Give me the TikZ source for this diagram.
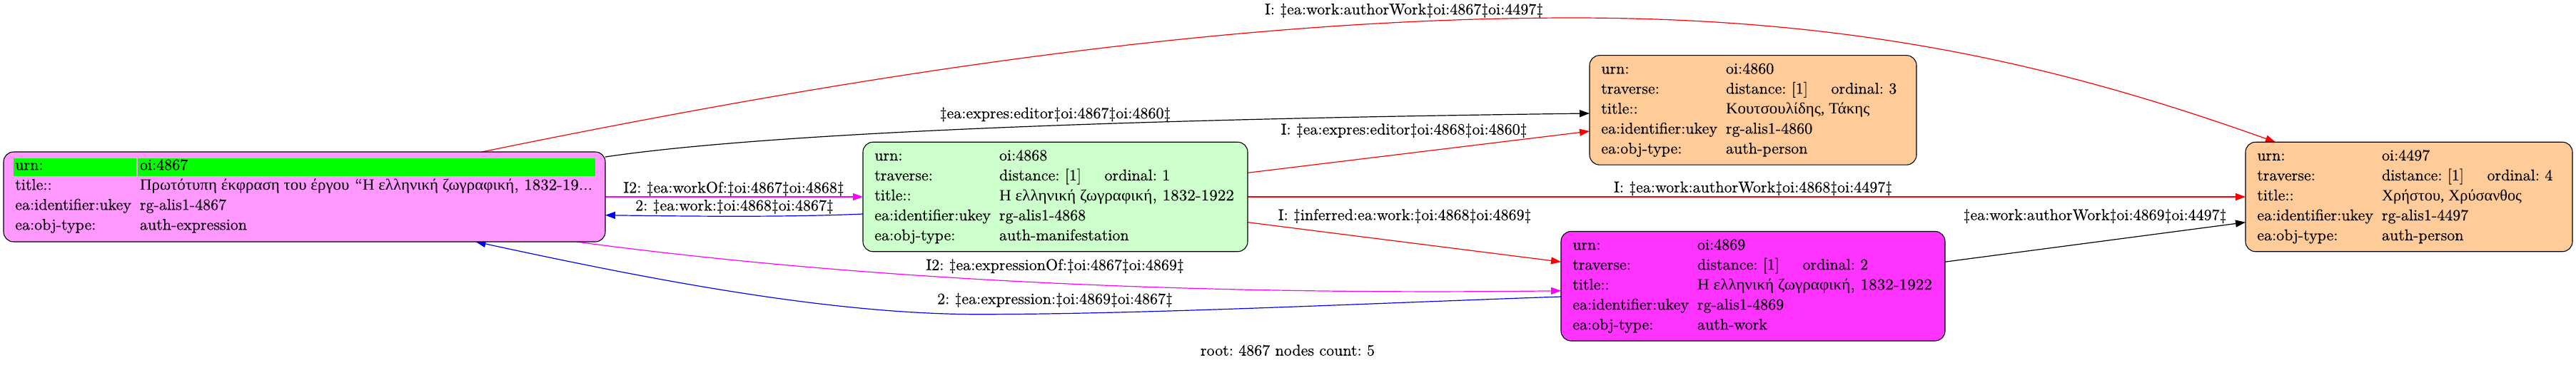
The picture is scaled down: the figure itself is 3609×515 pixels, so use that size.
\documentclass[tikz,border=0pt]{standalone}
\usepackage{fontspec}
\setmainfont{lmroman10-regular.otf}[FakeBold=0.35]
\newfontfamily\grfont{Liberation Serif}
\usetikzlibrary{arrows.meta,backgrounds}
\frenchspacing
\newcommand\gr[1]{{\grfont #1}}
% title fitted to the width it has in the picture
\newcommand\fitw[2]{\resizebox{#1pt}{\height}{#2}}
\definecolor{pinkfill}{HTML}{FF99FF}
\definecolor{greenfill}{HTML}{CCFFCC}
\definecolor{orangefill}{HTML}{FFCC99}
\definecolor{magfill}{HTML}{FF33FF}
\definecolor{hilite}{HTML}{00FF00}
\definecolor{edgered}{HTML}{FF0000}
\definecolor{edgemag}{HTML}{FF00FF}
\definecolor{edgeblue}{HTML}{0000FF}
% #1 box, #2 row id, #3 y offset from top, #4 label, #5 value
\newcommand\noderow[5]{%
  \node[txt] (#1-l#2) at ([xshift=16.3pt,yshift=-#3pt]#1.north west) {#4};
  \node[txt] (#1-v#2) at ([xshift=191pt,yshift=-#3pt]#1.north west) {#5};}
\newcommand\ordinalrow[2]{%
  \node[txt] (#1-ord) at ([xshift=338.5pt,yshift=-48.5pt]#1.north west) {ordinal: #2};}
\begin{document}
\frenchspacing
\begin{tikzpicture}[x=1pt,y=-1pt,
  every node/.style={inner sep=0pt, outer sep=0pt, font=\fontsize{22}{26}\selectfont\frenchspacing},
  txt/.style={anchor=west, text height=15.5pt, text depth=5pt},
  lbl/.style={anchor=center, text height=15.5pt, text depth=5pt},
  recbox/.style={draw=black, line width=1.1pt, rounded corners=14pt, minimum height=153.5pt},
  conn/.style={line width=1.2pt, -{Triangle[length=14pt,width=10pt]}},
  plain/.style={line width=1.2pt}]
\useasboundingbox (0,0) rectangle (3609,515);

% ---------- boxes ----------
\node[recbox, fill=pinkfill, minimum width=843pt, minimum height=126pt] (n4867) at (426.5,276) {};
\node[recbox, fill=greenfill, minimum width=539pt] (n4868) at (1478.5,276) {};
\node[recbox, fill=orangefill, minimum width=458pt] (n4860) at (2456,154.4) {};
\node[recbox, fill=magfill, minimum width=538pt] (n4869) at (2456,401.2) {};
\node[recbox, fill=orangefill, minimum width=458pt] (n4497) at (3375,276) {};

% highlight of root urn row
\fill[hilite] ([xshift=13.6pt,yshift=-8.7pt]n4867.north west) rectangle ([xshift=185.5pt,yshift=-33.7pt]n4867.north west);
\fill[hilite] ([xshift=188.2pt,yshift=-8.7pt]n4867.north west) rectangle ([xshift=829.3pt,yshift=-33.7pt]n4867.north west);

% ---------- rows ----------
\noderow{n4867}{1}{20}{urn:}{oi:4867}
\noderow{n4867}{2}{48}{title::}{\fitw{634}{\gr{Πρωτότυπη έκφραση του έργου} “\gr{Η ελληνική ζωγραφική}, 1832-19...}}
\noderow{n4867}{3}{76}{ea:identifier:ukey}{rg-alis1-4867}
\noderow{n4867}{4}{104}{ea:obj-type:}{auth-expression}

\noderow{n4868}{1}{20.5}{urn:}{oi:4868}
\noderow{n4868}{2}{48.5}{traverse:}{distance: [1]}
\ordinalrow{n4868}{1}
\noderow{n4868}{3}{76.5}{title::}{\fitw{329}{\gr{Η ελληνική ζωγραφική}, 1832-1922}}
\noderow{n4868}{4}{104.5}{ea:identifier:ukey}{rg-alis1-4868}
\noderow{n4868}{5}{132.5}{ea:obj-type:}{auth-manifestation}

\noderow{n4860}{1}{20.5}{urn:}{oi:4860}
\noderow{n4860}{2}{48.5}{traverse:}{distance: [1]}
\ordinalrow{n4860}{3}
\noderow{n4860}{3}{76.5}{title::}{\fitw{201.5}{\gr{Κουτσουλίδης, Τάκης}}}
\noderow{n4860}{4}{104.5}{ea:identifier:ukey}{rg-alis1-4860}
\noderow{n4860}{5}{132.5}{ea:obj-type:}{auth-person}

\noderow{n4869}{1}{20.5}{urn:}{oi:4869}
\noderow{n4869}{2}{48.5}{traverse:}{distance: [1]}
\ordinalrow{n4869}{2}
\noderow{n4869}{3}{76.5}{title::}{\fitw{329}{\gr{Η ελληνική ζωγραφική}, 1832-1922}}
\noderow{n4869}{4}{104.5}{ea:identifier:ukey}{rg-alis1-4869}
\noderow{n4869}{5}{132.5}{ea:obj-type:}{auth-work}

\noderow{n4497}{1}{20.5}{urn:}{oi:4497}
\noderow{n4497}{2}{48.5}{traverse:}{distance: [1]}
\ordinalrow{n4497}{4}
\noderow{n4497}{3}{76.5}{title::}{\fitw{196}{\gr{Χρήστου, Χρύσανθος}}}
\noderow{n4497}{4}{104.5}{ea:identifier:ukey}{rg-alis1-4497}
\noderow{n4497}{5}{132.5}{ea:obj-type:}{auth-person}

% ---------- connectors ----------
\begin{scope}[on background layer]
\draw[conn, edgered] ([xshift=248.5pt]n4867.north) .. controls (1175,110.5) and (1703,25) .. (2203,25)
   .. controls (2603,25) and (2888,92) .. ([xshift=-187pt]n4497.north);
\draw[conn, black] ([yshift=-7pt]n4867.north east) .. controls (1050,190) and (1500,168) .. ([yshift=-4.6pt]n4860.west);
\draw[conn, edgemag] (n4867.east) -- (n4868.west);
\draw[conn, edgeblue] ([yshift=-24pt]n4868.west) .. controls (1100,305) and (950,303) .. ([yshift=-25.7pt]n4867.east);
\draw[conn, edgered] ([yshift=33.7pt]n4868.east) -- ([yshift=-29.6pt]n4860.west);
\draw[conn, edgered] (n4868.east) -- (n4497.west);
\draw[conn, edgered] ([yshift=-35.7pt]n4868.east) -- ([yshift=34pt]n4869.west);
\draw[conn, edgemag] ([xshift=381pt]n4867.south) .. controls (1150,385) and (1600,415) .. ([yshift=-6.5pt]n4869.west);
\draw[conn, edgeblue] ([yshift=-14.8pt]n4869.west) .. controls (1900,426) and (1600,440.7) .. (1370,440.7)
   .. controls (1150,440.7) and (880,385) .. ([xshift=240pt]n4867.south);
\draw[conn, black] ([yshift=34pt]n4869.east) -- ([yshift=-35.7pt]n4497.west);
\end{scope}

% ---------- connector labels ----------
\node[lbl] (e1) at (1967,15) {I: \ddag ea:work:authorWork\ddag oi:4867\ddag oi:4497\ddag};
\node[lbl] (e2) at (1478.5,160.7) {\ddag ea:expres:editor\ddag oi:4867\ddag oi:4860\ddag};
\node[lbl] (e3) at (1028,265) {I2: \ddag ea:workOf:\ddag oi:4867\ddag oi:4868\ddag};
\node[lbl] (e4) at (1029,290) {2: \ddag ea:work:\ddag oi:4868\ddag oi:4867\ddag};
\node[lbl] (e5) at (1967,183.3) {I: \ddag ea:expres:editor\ddag oi:4868\ddag oi:4860\ddag};
\node[lbl] (e6) at (2456,264.5) {I: \ddag ea:work:authorWork\ddag oi:4868\ddag oi:4497\ddag};
\node[lbl] (e7) at (1968,303.3) {I: \ddag inferred:ea:work:\ddag oi:4868\ddag oi:4869\ddag};
\node[lbl] (e8) at (1478,373.5) {I2: \ddag ea:expressionOf:\ddag oi:4867\ddag oi:4869\ddag};
\node[lbl] (e9) at (1478,421) {2: \ddag ea:expression:\ddag oi:4869\ddag oi:4867\ddag};
\node[lbl] (e10) at (2935,303.3) {\ddag ea:work:authorWork\ddag oi:4869\ddag oi:4497\ddag};
\node[lbl] (root) at (1804,493.3) {root: 4867 nodes count: 5};
\end{tikzpicture}
\end{document}
